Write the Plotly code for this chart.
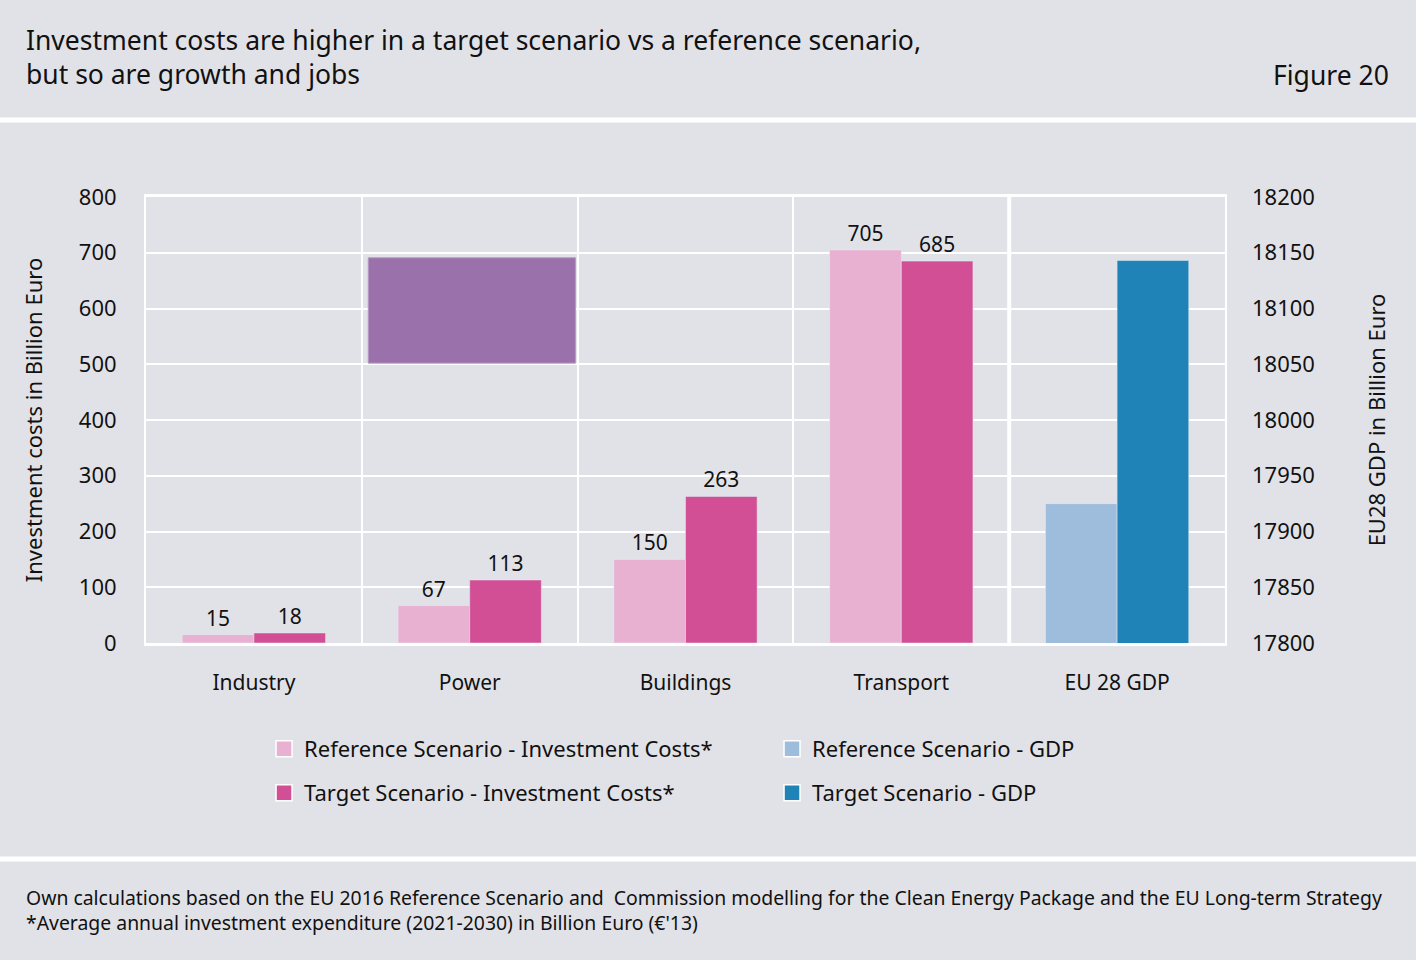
import plotly.graph_objects as go

# data
sectors = ["Industry", "Power", "Buildings", "Transport", "EU 28 GDP"]
invest_sectors = sectors[:4]
ref_invest = [15, 67, 150, 705]
target_invest = [18, 113, 263, 685]
gdp_ref = [17925]
gdp_target = [18143]

# stray purple box sitting in the Power column (left axis units)
box_x = [0.53, 1.49]
box_y = [502, 691]

BG = "#e1e2e7"
FONT = "Noto Sans"
PINK_LIGHT = "#e8b0d1"
PINK = "#d24f96"
BLUE_LIGHT = "#9ebcdb"
BLUE = "#1f83b7"

fig = go.Figure()

fig.add_trace(go.Bar(x=invest_sectors, y=ref_invest, name="Reference Scenario - Investment Costs*",
                     marker_color=PINK_LIGHT, offsetgroup="ref", text=ref_invest,
                     textposition="outside", cliponaxis=False, showlegend=False))
fig.add_trace(go.Bar(x=invest_sectors, y=target_invest, name="Target Scenario - Investment Costs*",
                     marker_color=PINK, offsetgroup="target", text=target_invest,
                     textposition="outside", cliponaxis=False, showlegend=False))
fig.add_trace(go.Bar(x=sectors[4:], y=gdp_ref, name="Reference Scenario - GDP",
                     marker_color=BLUE_LIGHT, offsetgroup="ref", yaxis="y2", showlegend=False))
fig.add_trace(go.Bar(x=sectors[4:], y=gdp_target, name="Target Scenario - GDP",
                     marker_color=BLUE, offsetgroup="target", yaxis="y2", showlegend=False))

# legend entries, one legend box each so they sit in a 2x2 grid
legend_items = [
    ("Reference Scenario - Investment Costs*", PINK_LIGHT, "legend", 0.1094, -0.2377),
    ("Reference Scenario - GDP", BLUE_LIGHT, "legend2", 0.5802, -0.2377),
    ("Target Scenario - Investment Costs*", PINK, "legend3", 0.1094, -0.3363),
    ("Target Scenario - GDP", BLUE, "legend4", 0.5802, -0.3363),
]
for name, col, lg, lx, ly in legend_items:
    fig.add_trace(go.Scatter(x=[None], y=[None], mode="markers", name=name, legend=lg,
                             marker=dict(symbol="square", size=20, color=col,
                                         line=dict(color="white", width=1.5))))
    fig.update_layout({lg: dict(x=lx, y=ly, xanchor="left", yanchor="middle",
                                bgcolor="rgba(0,0,0,0)", font=dict(size=22), itemwidth=30)})

fig.add_shape(type="rect", xref="x", yref="y", x0=box_x[0], x1=box_x[1], y0=box_y[0], y1=box_y[1],
              fillcolor="#9b71ab", line=dict(color="#b79ac4", width=1), layer="above")

# separator before the GDP column
fig.add_shape(type="line", xref="x", yref="paper", x0=3.5, x1=3.5, y0=0, y1=1,
              line=dict(color="white", width=4))

# header / footer white rules
fig.add_shape(type="line", xref="paper", yref="paper", x0=-0.14, x1=1.18, y0=1.1726, y1=1.1726,
              line=dict(color="white", width=5))
fig.add_shape(type="line", xref="paper", yref="paper", x0=-0.14, x1=1.18, y0=-0.4843, y1=-0.4843,
              line=dict(color="white", width=5))

fig.add_annotation(text="Investment costs are higher in a target scenario vs a reference scenario,<br>but so are growth and jobs",
                   xref="paper", yref="paper", x=-0.1131, y=1.314, xanchor="left", yanchor="middle",
                   align="left", showarrow=False, font=dict(size=26.5, color="#111"))
fig.add_annotation(text="Figure 20", xref="paper", yref="paper", x=1.1540, y=1.2735,
                   xanchor="right", yanchor="middle", showarrow=False, font=dict(size=26.5, color="#111"))
fig.add_annotation(text="Own calculations based on the EU 2016 Reference Scenario and  Commission modelling for the Clean Energy Package and the EU Long-term Strategy<br>*Average annual investment expenditure (2021-2030) in Billion Euro (€'13)",
                   xref="paper", yref="paper", x=-0.1131, y=-0.5987, xanchor="left", yanchor="middle",
                   align="left", showarrow=False, font=dict(size=19.4, color="#111"))

fig.update_layout(
    width=1416, height=960,
    paper_bgcolor=BG, plot_bgcolor=BG,
    font=dict(family=FONT, size=20, color="#111"),
    margin=dict(l=146, r=191, t=197, b=317),
    barmode="group", bargap=0.336, bargroupgap=0,
    xaxis=dict(type="category", categoryorder="array", categoryarray=sectors, range=[-0.5, 4.5],
               tickson="boundaries", showgrid=True, gridcolor="white", gridwidth=2,
               ticks="", ticklen=0, showline=True, mirror=True, linecolor="white", linewidth=3,
               tickfont=dict(size=21), ticklabelstandoff=19),
    yaxis=dict(range=[0, 800], dtick=100, gridcolor="white", gridwidth=2, zeroline=False,
               showline=True, mirror=True, linecolor="white", linewidth=2,
               ticks="", tickfont=dict(size=22), ticklabelstandoff=23,
               title=dict(text="Investment costs in Billion Euro", font=dict(size=22), standoff=30)),
    yaxis2=dict(overlaying="y", side="right", range=[17800, 18200], dtick=50, showgrid=False,
                zeroline=False, ticks="", tickformat="d", tickfont=dict(size=22), ticklabelstandoff=26,
                title=dict(text="EU28 GDP in Billion Euro", font=dict(size=22), standoff=55)),
)
fig.update_traces(textfont=dict(size=21, color="#111"), selector=dict(type="bar"))

fig.write_html("out.html", config={"displayModeBar": False},
               post_script="document.body.style.margin='0';")
